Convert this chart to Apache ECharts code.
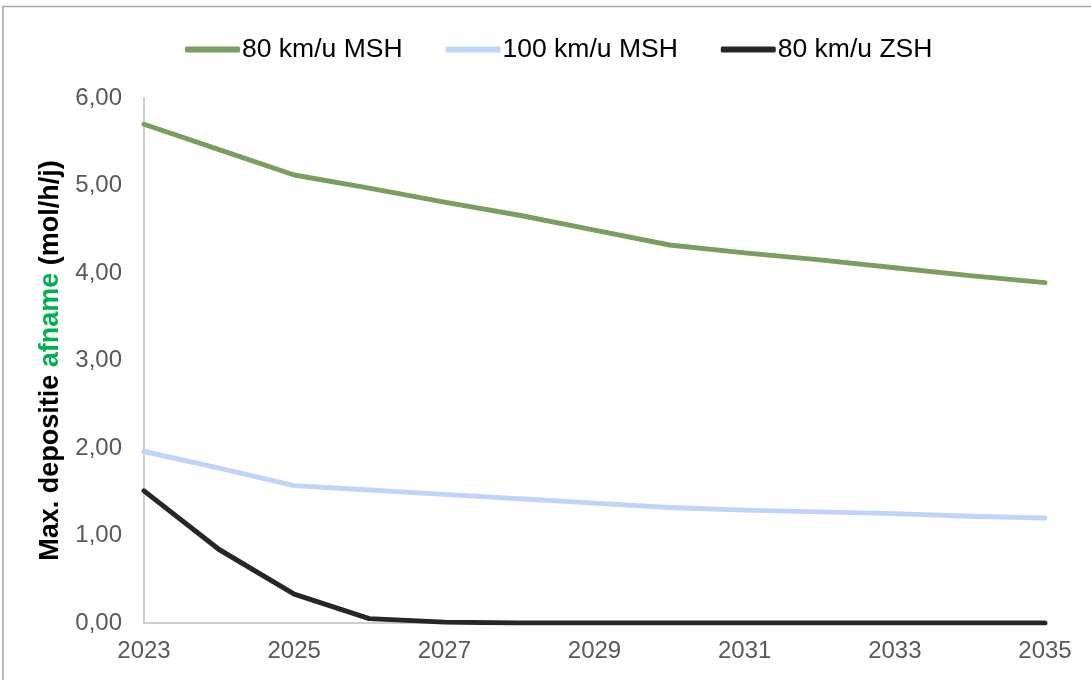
<!DOCTYPE html>
<html>
<head>
<meta charset="utf-8">
<script src="https://cdn.jsdelivr.net/npm/echarts@6/dist/echarts.min.js"></script>
<style>
  html, body { margin: 0; padding: 0; background: #fff; }
  #chart { width: 1091px; height: 680px; }
</style>
</head>
<body>
<div id="chart"></div>
<script>
// Years on the horizontal axis
const years = ['2023','2024','2025','2026','2027','2028','2029','2030','2031','2032','2033','2034','2035'];

// Maximum deposition decrease per scenario (mol/h/j)
const msh80  = [5.70, 5.41, 5.12, 4.97, 4.81, 4.66, 4.49, 4.32, 4.23, 4.15, 4.06, 3.97, 3.89];
const msh100 = [1.96, 1.77, 1.57, 1.52, 1.47, 1.42, 1.37, 1.32, 1.29, 1.27, 1.25, 1.22, 1.20];
const zsh80  = [1.51, 0.84, 0.33, 0.05, 0.01, 0.00, 0.00, 0.00, 0.00, 0.00, 0.00, 0.00, 0.00];

const seriesNames = ['80 km/u MSH', '100 km/u MSH', '80 km/u ZSH'];
const seriesColors = ['#7A9D60', '#BFD3FB', '#262626'];

const chart = echarts.init(document.getElementById('chart'), null, { renderer: 'canvas' });

function lineSeries(name, data, color) {
  return {
    name: name,
    type: 'line',
    data: data,
    symbol: 'none',
    smooth: false,
    lineStyle: { color: color, width: 5, cap: 'round', join: 'round' },
    itemStyle: { color: color }
  };
}

chart.setOption({
  animation: false,
  backgroundColor: '#ffffff',
  textStyle: { fontFamily: 'Liberation Sans, Arial, sans-serif' },
  graphic: [{
    type: 'rect',
    shape: { x: 3, y: 6.5, width: 1200, height: 800 },
    style: { fill: 'none', stroke: '#A6A6A6', lineWidth: 1.5 },
    silent: true
  }],
  legend: {
    top: 31,
    left: 180,
    itemWidth: 55,
    itemHeight: 6,
    itemGap: 43,
    icon: 'roundRect',
    textStyle: { color: '#000000', fontSize: 26.5, padding: [0, 0, 0, -3] },
    data: seriesNames
  },
  grid: { left: 144, right: 46, top: 98, bottom: 57, containLabel: false },
  xAxis: {
    type: 'category',
    data: years,
    boundaryGap: false,
    axisLine: { lineStyle: { color: '#BFBFBF', width: 1.5 } },
    axisTick: { show: false },
    axisLabel: { interval: 1, color: '#595959', fontSize: 24, margin: 16 },
    splitLine: { show: false }
  },
  yAxis: {
    type: 'value',
    min: 0,
    max: 6,
    interval: 1,
    axisLine: { show: true, lineStyle: { color: '#BFBFBF', width: 1.5 } },
    axisTick: { show: false },
    splitLine: { show: false },
    axisLabel: {
      color: '#595959',
      fontSize: 24,
      margin: 22,
      formatter: v => v.toFixed(2).replace('.', ',')
    },
    name: '{a|Max. depositie }{g|afname}{a| (mol/h/j)}',
    nameLocation: 'middle',
    nameGap: 66,
    nameTextStyle: {
      rich: {
        a: { fontSize: 27, fontWeight: 'bold', color: '#000000' },
        g: { fontSize: 27, fontWeight: 'bold', color: '#00B050' }
      }
    }
  },
  series: [
    lineSeries(seriesNames[0], msh80, seriesColors[0]),
    lineSeries(seriesNames[1], msh100, seriesColors[1]),
    lineSeries(seriesNames[2], zsh80, seriesColors[2])
  ]
});
</script>
</body>
</html>
